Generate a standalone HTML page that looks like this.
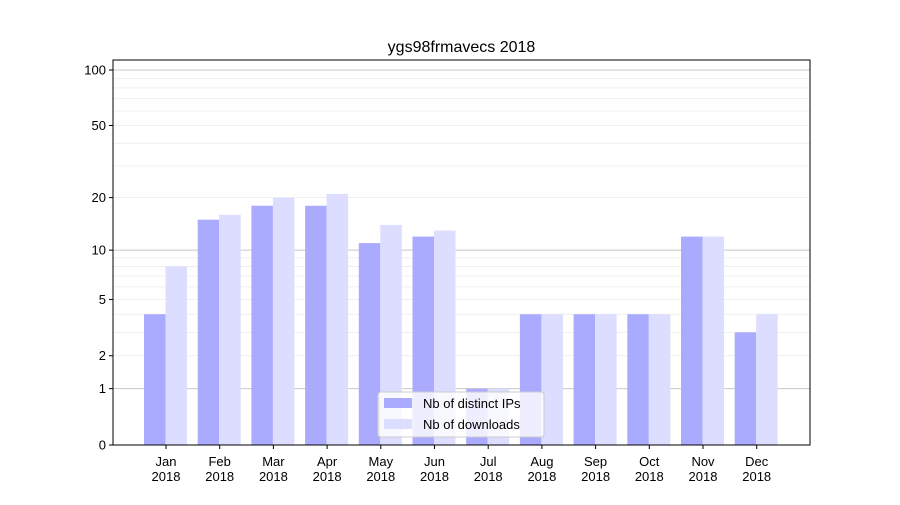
<!DOCTYPE html>
<html><head><meta charset="utf-8"><style>
body{margin:0;background:#fff;}
svg{font-family:"Liberation Sans",sans-serif;}
</style></head><body>
<svg id="c" width="900" height="500"></svg>
<script>
const categories=["Jan","Feb","Mar","Apr","May","Jun","Jul","Aug","Sep","Oct","Nov","Dec"];
const yearLabel="2018";
const ipsValues=[4,15,18,18,11,12,1,4,4,4,12,3];
const downloadValues=[8,16,20,21,14,13,1,4,4,4,12,4];
const yTicks=[0,1,2,5,10,20,50,100];
const NS="http://www.w3.org/2000/svg";
const svg=document.getElementById('c');
const L=113,R=810,T=60,B=445;
function y(v){return B-187.1*Math.log10(1+v);}
function xc(i){return 166+i*53.7;}
function el(t,a,p){const e=document.createElementNS(NS,t);for(const k in a)e.setAttribute(k,a[k]);(p||svg).appendChild(e);return e;}
// grid
const gridVals=[];
for(const d of [1,10]){for(let m=2;m<=9;m++)gridVals.push(m*d);}
gridVals.forEach(v=>{const g=el('line',{x1:L,x2:R,y1:y(v),y2:y(v),stroke:'#ebebeb','stroke-width':0.8});

});
[1,10,100].forEach(v=>{const g=el('line',{x1:L,x2:R,y1:y(v),y2:y(v),stroke:'#c8c8c8','stroke-width':1});

});
// bars
categories.forEach((c,i)=>{
 const a=el('rect',{x:xc(i)-22,y:y(ipsValues[i]),width:21.5,height:B-y(ipsValues[i]),fill:'#aaaaff'});
 
 
 const b=el('rect',{x:xc(i)-0.5,y:y(downloadValues[i]),width:21.5,height:B-y(downloadValues[i]),fill:'#ddddff'});
 
 
 const tk=el('line',{x1:xc(i),x2:xc(i),y1:B,y2:B+4,stroke:'#000'});
 
 
 const t=el('text',{x:xc(i),y:B+21,'text-anchor':'middle','font-size':13});
 
 
 t.innerHTML='<tspan x="'+xc(i)+'">'+c+'</tspan><tspan x="'+xc(i)+'" dy="15">'+yearLabel+'</tspan>';
});
// y ticks
yTicks.forEach(v=>{
 const tk=el('line',{x1:L-4,x2:L,y1:y(v),y2:y(v),stroke:'#000'});
 
 
 const t=el('text',{x:L-7,y:y(v)+4.5,'text-anchor':'end','font-size':13});
 
 
 t.textContent=v;
});
const fr=el('rect',{x:L,y:T,width:R-L,height:B-T,fill:'none',stroke:'#000','stroke-width':1});


const ti=el('text',{x:461.5,y:52,'text-anchor':'middle','font-size':16});


ti.textContent='ygs98frmavecs 2018';
// legend
const lg=el('g',{});


el('rect',{x:378,y:392,width:166,height:45,rx:3,fill:'#fff','fill-opacity':0.8,stroke:'#ccc'},lg);
el('rect',{x:384,y:398,width:28,height:10,fill:'#aaaaff'},lg);
el('rect',{x:384,y:419,width:28,height:10,fill:'#ddddff'},lg);
const l1=el('text',{x:423,y:408,'font-size':13},lg);l1.textContent='Nb of distinct IPs';


const l2=el('text',{x:423,y:429,'font-size':13},lg);l2.textContent='Nb of downloads';


</script>
</body></html>
